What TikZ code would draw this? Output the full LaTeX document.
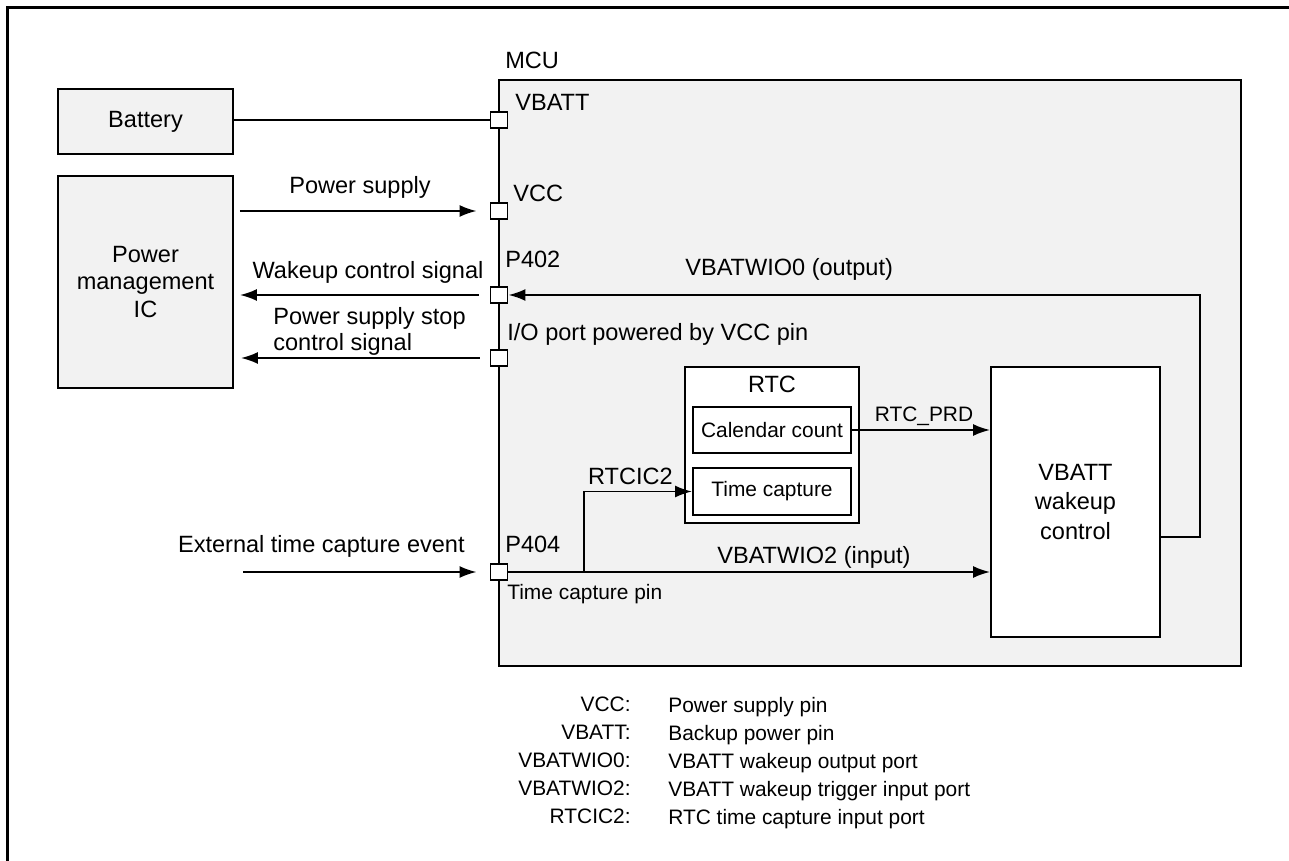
\documentclass[tikz,border=0pt]{standalone}
\usepackage{fontspec}
\setmainfont{Liberation Sans}
\usepackage{xcolor}
\definecolor{mcugray}{RGB}{242,242,242}
\usetikzlibrary{arrows.meta,positioning,calc}

\begin{document}
\begin{tikzpicture}[x=0.02cm, y=-0.02cm,
  font=\fontsize{13.4}{15.9}\selectfont,
  blk/.style={rectangle, draw=black, line width=1.1pt, align=center, inner sep=0pt},
  pin/.style={rectangle, draw=black, fill=white, line width=1.1pt,
              minimum width=0.34cm, minimum height=0.32cm, inner sep=0pt},
  arr/.style={-{Latex[length=3.4mm,width=2.4mm]}, line width=1.1pt},
  wire/.style={line width=1.1pt},
  lbl/.style={inner sep=0pt},
  smallf/.style={font=\fontsize{11.9}{15.9}\selectfont}
]
\useasboundingbox (0,0) rectangle (1289,861);
\draw[line width=2.2pt] (1289,7.5) -- (7.5,7.5) -- (7.5,861);

% MCU and outside blocks
\node[blk, fill=mcugray, minimum width=14.84cm, minimum height=11.72cm] (mcu) at (870,373) {};
\node[lbl, anchor=base west] (mcul) at (505,69) {MCU};

\node[blk, fill=mcugray, minimum width=3.5cm, minimum height=1.3cm]  (bat)  at (145.5,121.5) {Battery};
\node[blk, fill=mcugray, minimum width=3.5cm, minimum height=4.24cm] (pmic) at (145.5,282)   {Power\\management\\IC};

% Inner blocks
\node[blk, fill=white, minimum width=3.48cm, minimum height=3.12cm] (rtc)  at (772,445)   {};
\node[lbl, anchor=base]                                             (rtcl) at (772,393)   {RTC};
\node[blk, smallf, fill=white, minimum width=3.16cm, minimum height=0.92cm] (cal)  at (772,430)   {Calendar count};
\node[blk, smallf, fill=white, minimum width=3.16cm, minimum height=0.94cm] (tcap) at (772,491.5) {Time capture};
\node[blk, fill=white, minimum width=3.38cm, minimum height=5.4cm]  (ctrl) at (1075.5,502) {VBATT\\[1pt]wakeup\\[1pt]control};

% Pins
\foreach \n/\y in {pbatt/120, pvcc/211, p402/295, pio/358, p404/572}
  \node[pin] (\n) at (499,\y) {};

\node[lbl, anchor=base west] (pbattl) at (515,111) {VBATT};
\node[lbl, anchor=base west] (pvccl)  at (513,202) {VCC};
\node[lbl, anchor=base west] (p402l)  at (505,268) {P402};
\node[lbl, anchor=base west] (piol)   at (507,341) {I/O port powered by VCC pin};
\node[lbl, anchor=base west] (p404l)  at (505,553) {P404};
\node[lbl, anchor=base west, smallf] (p404n) at (507,600) {Time capture pin};

% Arrows
\coordinate (ext)  at (243,572);
\coordinate (br)   at (584,572);
\coordinate (wio0) at (1200,295);

\draw[wire] (bat.east |- pbatt) -- (pbatt.west);
\draw[arr] ($(pmic.east |- pvcc)+(6,0)$) -- ($(pvcc.west)+(-13,0)$);
\draw[arr] ($(p402.west)+(-11,0)$) -- ($(pmic.east |- p402)+(6,0)$);
\draw[arr] ($(pio.west)+(-10,0)$)  -- ($(pmic.east |- pio)+(7,0)$);
\draw[arr] (ext) -- ($(p404.west)+(-13,0)$);
\draw[arr] (p404.east) -- (ctrl.west |- p404);
\draw[arr] (br) |- (tcap.west);
\draw[arr] (cal.east) -- (ctrl.west |- cal.east);
\draw[arr] ($(ctrl.east)+(0,35)$) -| (wio0) -- (p402.east);

% Signal labels
\node[lbl, anchor=base]       (psl)   at (360,194) {Power supply};
\node[lbl, anchor=base]       (wkl)   at (368,279) {Wakeup control signal};
\node[lbl, anchor=north west, align=left, font=\fontsize{13.4}{14.8}\selectfont]
                              (stopl) at (273,307) {Power supply stop\\control signal};
\node[lbl, anchor=base east]  (extl)  at (465,553) {External time capture event};
\node[lbl, anchor=base east]  (icl)   at (673,485) {RTCIC2};
\node[lbl, anchor=base, smallf] (prdl) at (924,422) {RTC\_PRD};
\node[lbl, anchor=base west]  (wio0l) at (685,276) {VBATWIO0 (output)};
\node[lbl, anchor=base west]  (wio2l) at (717,563) {VBATWIO2 (input)};

% Legend
\node[lbl, smallf, anchor=north east, align=right] (keys) at (631,697)
  {VCC:\\VBATT:\\VBATWIO0:\\VBATWIO2:\\RTCIC2:};
\node[lbl, smallf, anchor=north west, align=left] (descs) at (668,697)
  {Power supply pin\\Backup power pin\\VBATT wakeup output port\\VBATT wakeup trigger input port\\RTC time capture input port};
\end{tikzpicture}
\end{document}
